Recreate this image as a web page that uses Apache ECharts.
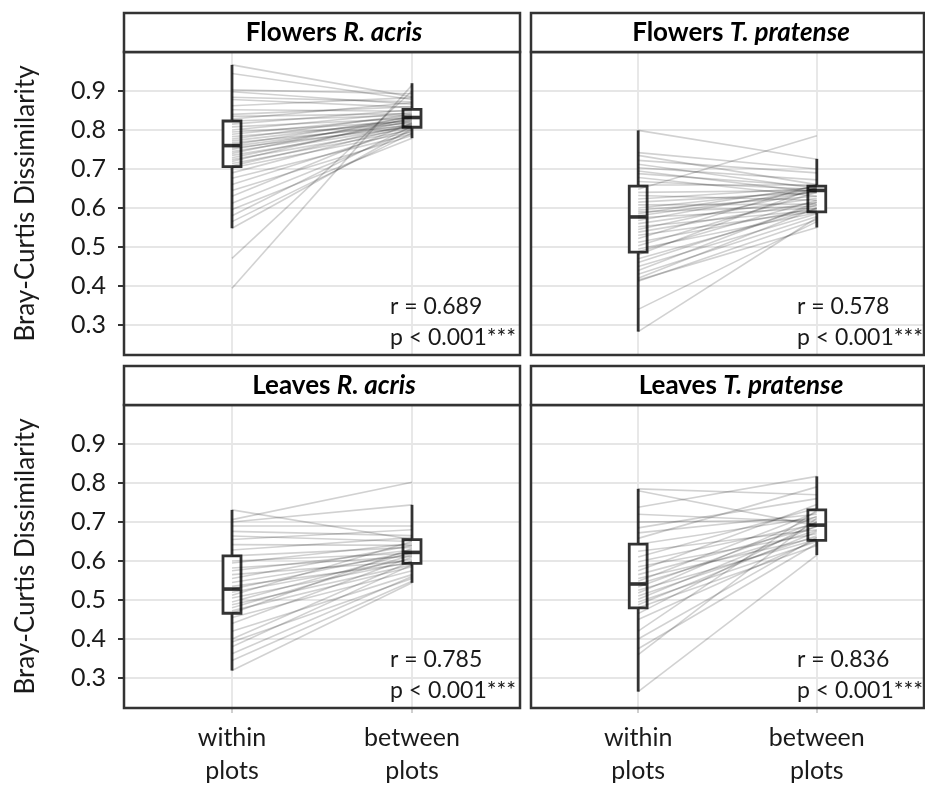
<!DOCTYPE html>
<html>
<head>
<meta charset="utf-8">
<script src="https://cdn.jsdelivr.net/npm/echarts@6/dist/echarts.min.js"></script>
<style>
  html, body { margin: 0; padding: 0; background: #fff; }
  #chart { width: 925px; height: 787px; }
</style>
</head>
<body>
<div id="chart"></div>
<script>
// ---------- data ----------
const categories = ['within\nplots', 'between\nplots'];
const categoryPos = [1, 2];
const yTicks = [0.3, 0.4, 0.5, 0.6, 0.7, 0.8, 0.9];
const panelTitles = [['Flowers', 'R. acris'], ['Flowers', 'T. pratense'], ['Leaves', 'R. acris'], ['Leaves', 'T. pratense']];
const statR = ['0.689', '0.578', '0.785', '0.836'];
const statP = ['< 0.001***', '< 0.001***', '< 0.001***', '< 0.001***'];

// Flowers R. acris
const flowersRacrisWithin = [0.967, 0.945, 0.903, 0.898, 0.884, 0.878, 0.862, 0.852, 0.840, 0.835, 0.828, 0.823, 0.815, 0.808, 0.800, 0.795, 0.789, 0.783, 0.777, 0.772, 0.767, 0.762, 0.758, 0.754, 0.750, 0.745, 0.740, 0.735, 0.729, 0.724, 0.719, 0.714, 0.708, 0.703, 0.690, 0.676, 0.660, 0.645, 0.630, 0.612, 0.596, 0.580, 0.565, 0.548, 0.471, 0.394];
const flowersRacrisBetween = [0.885, 0.878, 0.893, 0.866, 0.872, 0.858, 0.883, 0.848, 0.860, 0.842, 0.870, 0.838, 0.852, 0.830, 0.845, 0.822, 0.835, 0.818, 0.840, 0.826, 0.812, 0.833, 0.820, 0.808, 0.828, 0.815, 0.836, 0.810, 0.824, 0.805, 0.832, 0.800, 0.815, 0.795, 0.812, 0.790, 0.805, 0.786, 0.818, 0.798, 0.779, 0.810, 0.792, 0.803, 0.900, 0.915];
const flowersRacrisBox = [[0.548, 0.706, 0.760, 0.823, 0.967], [0.779, 0.807, 0.832, 0.853, 0.920]];

// Flowers T. pratense
const flowersTpratenseWithin = [0.799, 0.742, 0.735, 0.722, 0.712, 0.703, 0.695, 0.688, 0.678, 0.668, 0.660, 0.648, 0.640, 0.632, 0.623, 0.615, 0.608, 0.600, 0.595, 0.590, 0.585, 0.580, 0.575, 0.568, 0.560, 0.552, 0.545, 0.538, 0.530, 0.522, 0.512, 0.503, 0.495, 0.488, 0.480, 0.470, 0.460, 0.450, 0.440, 0.430, 0.420, 0.415, 0.412, 0.340, 0.283];
const flowersTpratenseBetween = [0.725, 0.700, 0.660, 0.690, 0.650, 0.672, 0.640, 0.655, 0.630, 0.648, 0.660, 0.785, 0.645, 0.620, 0.652, 0.640, 0.610, 0.648, 0.630, 0.605, 0.655, 0.642, 0.600, 0.650, 0.625, 0.595, 0.645, 0.615, 0.592, 0.660, 0.600, 0.640, 0.588, 0.620, 0.653, 0.598, 0.608, 0.585, 0.615, 0.578, 0.600, 0.550, 0.570, 0.565, 0.575];
const flowersTpratenseBox = [[0.283, 0.487, 0.577, 0.656, 0.799], [0.550, 0.590, 0.645, 0.656, 0.726]];

// Leaves R. acris
const leavesRacrisWithin = [0.731, 0.706, 0.700, 0.690, 0.676, 0.664, 0.655, 0.642, 0.628, 0.613, 0.600, 0.595, 0.582, 0.575, 0.565, 0.555, 0.545, 0.535, 0.528, 0.520, 0.512, 0.505, 0.495, 0.488, 0.480, 0.472, 0.466, 0.455, 0.440, 0.420, 0.400, 0.392, 0.380, 0.362, 0.345, 0.319];
const leavesRacrisBetween = [0.655, 0.802, 0.744, 0.690, 0.665, 0.650, 0.680, 0.640, 0.660, 0.635, 0.620, 0.645, 0.612, 0.628, 0.600, 0.640, 0.618, 0.595, 0.625, 0.605, 0.650, 0.598, 0.622, 0.590, 0.615, 0.585, 0.632, 0.575, 0.610, 0.565, 0.600, 0.555, 0.590, 0.560, 0.548, 0.544];
const leavesRacrisBox = [[0.319, 0.466, 0.528, 0.613, 0.731], [0.544, 0.594, 0.622, 0.655, 0.744]];

// Leaves T. pratense
const leavesTpratenseWithin = [0.785, 0.780, 0.738, 0.720, 0.700, 0.685, 0.672, 0.658, 0.643, 0.625, 0.610, 0.598, 0.585, 0.575, 0.565, 0.555, 0.548, 0.541, 0.533, 0.525, 0.518, 0.510, 0.502, 0.495, 0.488, 0.480, 0.465, 0.450, 0.420, 0.400, 0.375, 0.360, 0.265];
const leavesTpratenseBetween = [0.770, 0.690, 0.817, 0.700, 0.705, 0.760, 0.720, 0.790, 0.712, 0.680, 0.735, 0.695, 0.670, 0.745, 0.688, 0.660, 0.725, 0.678, 0.700, 0.655, 0.715, 0.665, 0.690, 0.650, 0.675, 0.640, 0.700, 0.655, 0.730, 0.660, 0.645, 0.710, 0.615];
const leavesTpratenseBox = [[0.265, 0.480, 0.541, 0.643, 0.785], [0.615, 0.653, 0.692, 0.731, 0.817]];

const panelWithin = [flowersRacrisWithin, flowersTpratenseWithin, leavesRacrisWithin, leavesTpratenseWithin];
const panelBetween = [flowersRacrisBetween, flowersTpratenseBetween, leavesRacrisBetween, leavesTpratenseBetween];
const panelBox = [flowersRacrisBox, flowersTpratenseBox, leavesRacrisBox, leavesTpratenseBox];

// ---------- layout ----------
const FONT = 'Lato';
const TXT = '#1a1a1a';
const BORDER = '#333333';
const GRIDC = '#e6e6e6';
const panels = [
  { left: 124, top: 52, width: 396 },
  { left: 531, top: 52, width: 393 },
  { left: 124, top: 405, width: 396 },
  { left: 531, top: 405, width: 393 }
];
const PH = 303, STRIP = 39;
const Y_MIN = 0.223, Y_MAX = 1.0;

const grids = [], xAxes = [], yAxes = [], series = [], graphics = [];

panels.forEach(function (p, i) {
  const isLeft = (i % 2 === 0);
  const isBottom = (i >= 2);
  const PW = p.width;
  grids.push({ left: p.left, top: p.top, width: PW, height: PH, show: true, backgroundColor: '#fff', borderWidth: 0 });
  xAxes.push({
    type: 'value', gridIndex: i, min: 0.4, max: 2.6,
    axisLine: { show: false },
    axisTick: { show: isBottom, length: 5, lineStyle: { color: '#cfcfcf', width: 2 }, customValues: categoryPos },
    axisLabel: {
      show: isBottom, customValues: categoryPos, margin: 13,
      fontFamily: FONT, fontSize: 25, color: TXT, lineHeight: 33,
      formatter: function (v) { return categories[Math.round(v) - 1]; }
    },
    splitLine: { show: true, lineStyle: { color: GRIDC, width: 1.8 } }
  });
  yAxes.push({
    type: 'value', gridIndex: i, min: Y_MIN, max: Y_MAX,
    axisLine: { show: false },
    axisTick: { show: isLeft, length: 6, lineStyle: { color: BORDER, width: 2 }, customValues: yTicks },
    axisLabel: {
      show: isLeft, customValues: yTicks, margin: 18,
      fontFamily: FONT, fontSize: 25, color: TXT,
      formatter: function (v) { return v.toFixed(1); }
    },
    splitLine: { show: true, lineStyle: { color: GRIDC, width: 1.8 } }
  });

  // boxplots
  const boxData = panelBox[i].map(function (s, k) { return [categoryPos[k]].concat(s); });
  series.push({
    type: 'custom', xAxisIndex: i, yAxisIndex: i, z: 2, silent: true,
    encode: { x: 0, y: [1, 2, 3, 4, 5] },
    data: boxData,
    renderItem: function (params, api) {
      const x = api.value(0);
      const lo = api.coord([x, api.value(1)]);
      const q1 = api.coord([x, api.value(2)]);
      const md = api.coord([x, api.value(3)]);
      const q3 = api.coord([x, api.value(4)]);
      const hi = api.coord([x, api.value(5)]);
      const hw = api.size([0.1, 0])[0] / 2;
      return {
        type: 'group', children: [
          { type: 'line', shape: { x1: lo[0], y1: lo[1], x2: hi[0], y2: hi[1] }, style: { stroke: BORDER, lineWidth: 2.8 } },
          { type: 'rect', shape: { x: q3[0] - hw, y: q3[1], width: 2 * hw, height: q1[1] - q3[1] }, style: { fill: '#ffffff', stroke: BORDER, lineWidth: 2.8 } },
          { type: 'line', shape: { x1: md[0] - hw, y1: md[1], x2: md[0] + hw, y2: md[1] }, style: { stroke: BORDER, lineWidth: 3.6 } }
        ]
      };
    }
  });

  // paired lines
  const w = panelWithin[i], b = panelBetween[i];
  series.push({
    type: 'lines', coordinateSystem: 'cartesian2d', xAxisIndex: i, yAxisIndex: i, z: 3, silent: true,
    polyline: false,
    lineStyle: { color: '#000', opacity: 0.18, width: 1.6 },
    data: w.map(function (v, k) { return { coords: [[categoryPos[0], v], [categoryPos[1], b[k]]] }; })
  });

  // panel border and strip
  graphics.push({ type: 'rect', z: 100, shape: { x: p.left, y: p.top, width: PW, height: PH }, style: { fill: 'none', stroke: BORDER, lineWidth: 2.5 } });
  graphics.push({ type: 'rect', z: 100, shape: { x: p.left, y: p.top - STRIP, width: PW, height: STRIP }, style: { fill: '#fff', stroke: BORDER, lineWidth: 2.5 } });
  graphics.push({
    type: 'text', z: 101, x: p.left + 198 + 12, y: p.top - STRIP / 2,
    style: {
      text: '{b|' + panelTitles[i][0] + ' }{bi|' + panelTitles[i][1] + '}',
      align: 'center', verticalAlign: 'middle',
      rich: {
        b: { fontFamily: FONT, fontWeight: 'bold', fontSize: 26, fill: '#000' },
        bi: { fontFamily: FONT, fontWeight: 'bold', fontStyle: 'italic', fontSize: 26, fill: '#000' }
      }
    }
  });
  // statistics annotation
  graphics.push({ type: 'text', z: 101, x: p.left + 266, y: p.top + 255, style: { text: 'r = ' + statR[i], fontFamily: FONT, fontSize: 23, fill: TXT, align: 'left', verticalAlign: 'middle' } });
  graphics.push({ type: 'text', z: 101, x: p.left + 266, y: p.top + 286, style: { text: 'p ' + statP[i], fontFamily: FONT, fontSize: 23, fill: TXT, align: 'left', verticalAlign: 'middle' } });

  if (isLeft) {
    graphics.push({
      type: 'text', z: 101, x: 26, y: p.top + PH / 2, rotation: Math.PI / 2,
      style: { text: 'Bray-Curtis Dissimilarity', fontFamily: FONT, fontSize: 26, fill: TXT, align: 'center', verticalAlign: 'middle' }
    });
  }
});

const chart = echarts.init(document.getElementById('chart'), null, { renderer: 'canvas' });
chart.setOption({
  animation: false,
  backgroundColor: '#fff',
  grid: grids,
  xAxis: xAxes,
  yAxis: yAxes,
  series: series,
  graphic: graphics
});
</script>
</body>
</html>
